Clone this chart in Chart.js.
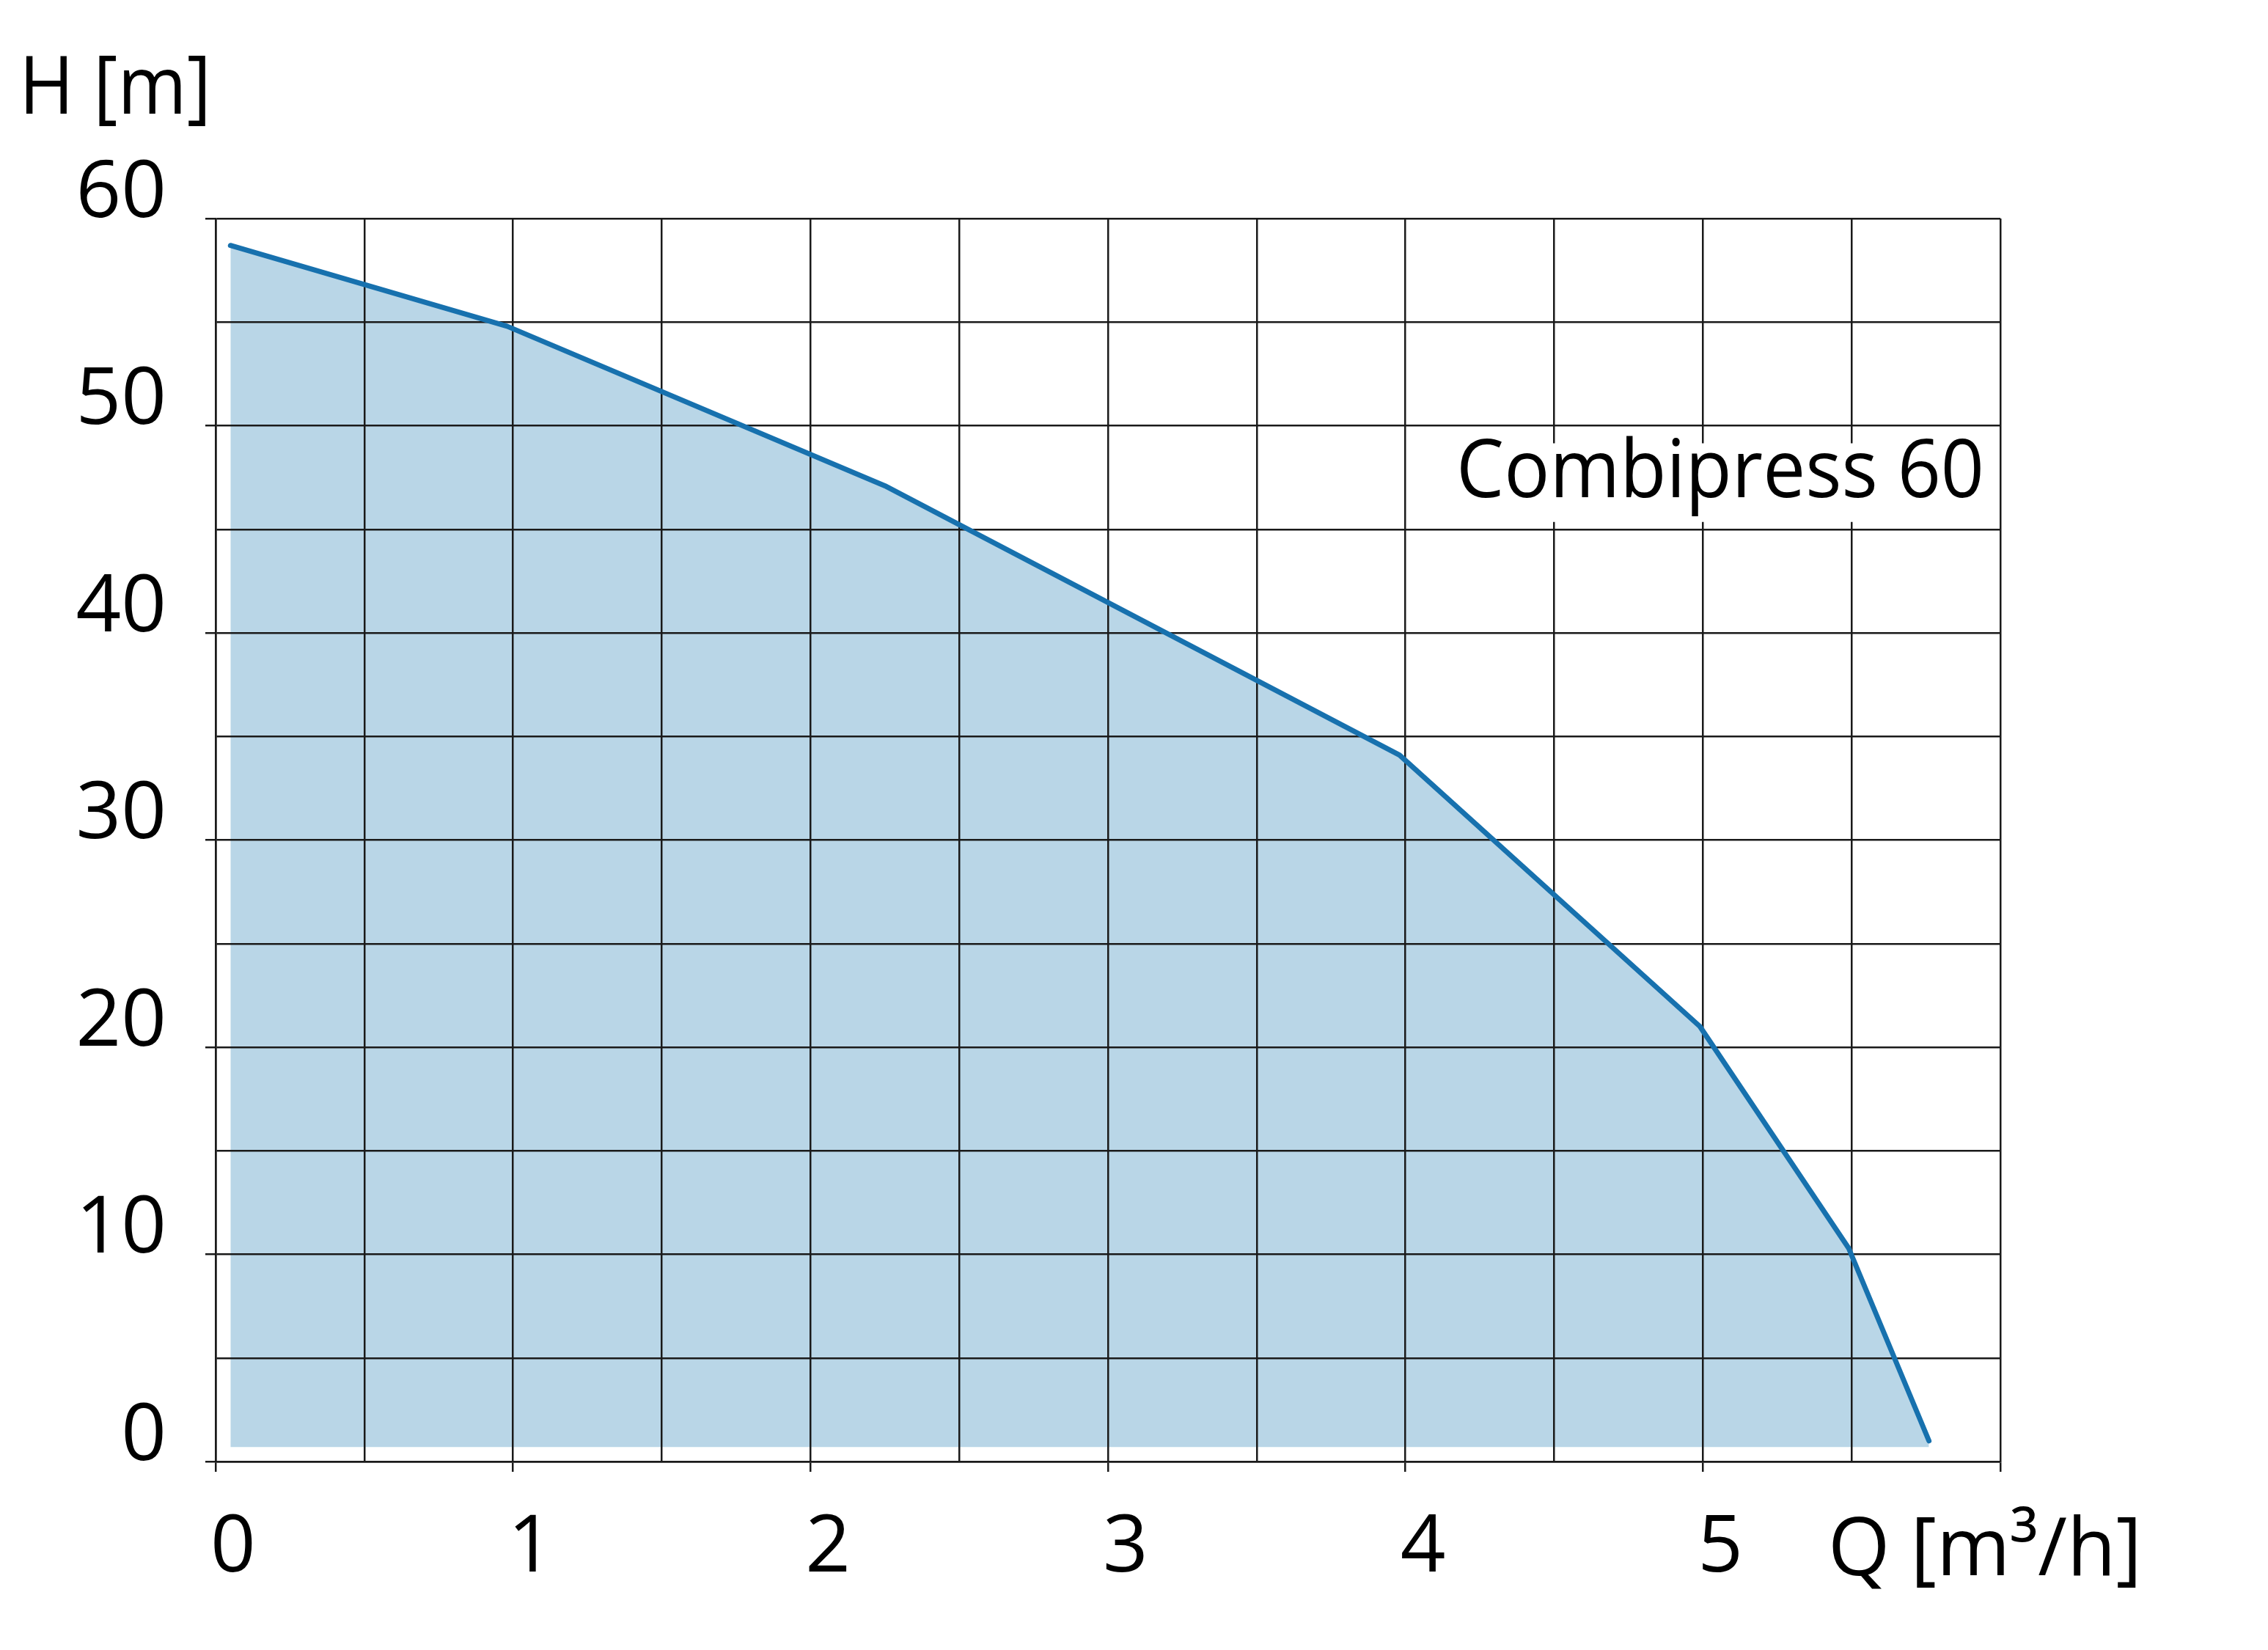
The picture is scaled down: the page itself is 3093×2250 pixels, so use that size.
<!DOCTYPE html>
<html>
<head>
<meta charset="utf-8">
<title>Combipress 60</title>
<script src="https://cdn.jsdelivr.net/npm/chart.js@4.4.1/dist/chart.umd.min.js"></script>
<style>
    html, body { margin: 0; padding: 0; background: #fff; }
    #wrap { width: 3093px; height: 2250px; }
</style>
</head>
<body>
<div id="wrap"><canvas id="pumpChart" width="3093" height="2250"></canvas></div>
<script>
/* =========================
   DATA
========================= */

const flowQ = [0.05, 0.98, 2.25, 3.98, 4.99, 5.49, 5.76];
const headH = [58.7, 54.8, 47.1, 34.1, 21.0, 10.3, 1.0];

const xTickLabels = ["0", "1", "2", "3", "4", "5", ""];
const yTickLabels = ["0", "10", "20", "30", "40", "50", "60"];

const curveName = "Combipress 60";
const xTitle = "Q [m³/h]";
const yTitle = "H [m]";
const fillBase = 0.7;

/* =========================
   STYLE
========================= */

const FONT = "'Open Sans', 'Noto Sans', sans-serif";
const GRID = "#1a1a1a";
const LINE_BLUE = "#1771ae";
const FILL_BLUE = "#b9d6e7";

/* =========================
   HELPERS
========================= */

// draw text squeezed to a given width (reference font is narrower)
function fitText(ctx, text, x, y, width) {
    ctx.save();
    let w = ctx.measureText(text).width;
    ctx.translate(x, y);
    ctx.scale(width / w, 1);
    ctx.textAlign = "left";
    ctx.textBaseline = "alphabetic";
    ctx.fillText(text, 0, 0);
    ctx.restore();
}

/* ---------- line over grid + labels ---------- */
const overlay = {
    id: "overlay",
    beforeDatasetDraw(chart, args) {
        if (args.index === 1) return false;
    },
    afterDraw(chart) {
        const ctx = chart.ctx;
        const xs = chart.scales.x;
        const ys = chart.scales.y;

        // curve line drawn on top of the grid
        chart.getDatasetMeta(1).controller.draw();

        // white box with curve name
        let left = xs.getPixelForValue(4.1);
        let right = chart.chartArea.right - 3;
        let top = ys.getPixelForValue(50) + 24;
        let bottom = ys.getPixelForValue(45) - 10;
        ctx.save();
        ctx.fillStyle = "#fff";
        ctx.fillRect(left, top, right - left, bottom - top);
        ctx.fillStyle = "#000";
        ctx.font = "110px " + FONT;
        fitText(ctx, curveName, 1986, 678, 720);

        // axis titles
        fitText(ctx, yTitle, 26, 155, 262);
        fitText(ctx, xTitle, 2493, 2148, 428);
        ctx.restore();
    }
};

/* =========================
   CHART
========================= */

const points = flowQ.map((q, i) => ({ x: q, y: headH[i] }));

new Chart(document.getElementById("pumpChart"), {
    type: "line",
    data: {
        datasets: [
            {
                data: points,
                borderWidth: 0,
                backgroundColor: FILL_BLUE,
                fill: { value: fillBase },
                pointRadius: 0,
                tension: 0
            },
            {
                data: points,
                borderColor: LINE_BLUE,
                borderWidth: 7,
                borderCapStyle: "round",
                borderJoinStyle: "round",
                fill: false,
                pointRadius: 0,
                tension: 0
            }
        ]
    },
    options: {
        responsive: false,
        animation: false,
        devicePixelRatio: 1,
        layout: { padding: { top: 298, right: 365, left: 0, bottom: 0 } },
        plugins: {
            legend: { display: false },
            tooltip: { enabled: false }
        },
        scales: {
            x: {
                type: "linear",
                min: 0,
                max: 6,
                afterFit: s => { s.height = 257; },
                border: { color: GRID, width: 2.5, z: 1 },
                grid: {
                    color: GRID,
                    lineWidth: 2.5,
                    z: 1,
                    tickLength: 14,
                    tickWidth: 2.5,
                    tickColor: c => Number.isInteger(c.tick.value) ? GRID : "rgba(0,0,0,0)"
                },
                ticks: {
                    stepSize: 0.5,
                    align: "start",
                    padding: 40,
                    labelOffset: -7,
                    maxRotation: 0,
                    autoSkip: false,
                    color: "#000",
                    font: { family: FONT, size: 108 },
                    callback: v => Number.isInteger(v) ? xTickLabels[v] : ""
                }
            },
            y: {
                type: "linear",
                min: 0,
                max: 60,
                afterFit: s => { s.width = 294; },
                border: { color: GRID, width: 2.5, z: 1 },
                grid: {
                    color: GRID,
                    lineWidth: 2.5,
                    z: 1,
                    tickLength: 14,
                    tickWidth: 2.5,
                    tickColor: c => c.tick.value % 10 === 0 ? GRID : "rgba(0,0,0,0)"
                },
                ticks: {
                    stepSize: 5,
                    padding: 53,
                    labelOffset: -33,
                    autoSkip: false,
                    color: "#000",
                    font: { family: FONT, size: 108 },
                    callback: v => v % 10 === 0 ? yTickLabels[v / 10] : ""
                }
            }
        }
    },
    plugins: [overlay]
});
</script>
</body>
</html>
